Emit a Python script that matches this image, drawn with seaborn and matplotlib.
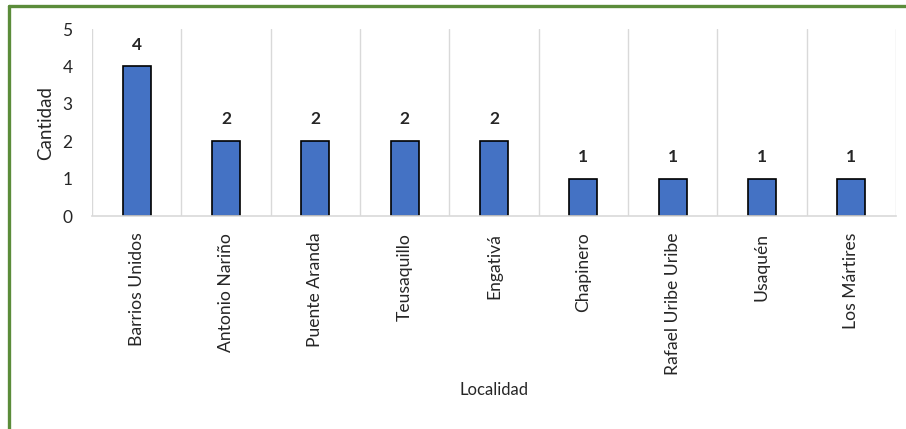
import numpy as np
import pandas as pd
import seaborn as sns
import matplotlib.pyplot as plt
from matplotlib.lines import Line2D

# datos
localidades = ['Barrios Unidos', 'Antonio Nariño', 'Puente Aranda', 'Teusaquillo',
               'Engativá', 'Chapinero', 'Rafael Uribe Uribe', 'Usaquén', 'Los Mártires']
cantidad = [4, 2, 2, 2, 2, 1, 1, 1, 1]

df = pd.DataFrame({'Localidad': localidades, 'Cantidad': cantidad})

sns.set_style('white')
plt.rcParams['font.family'] = ['Lato', 'DejaVu Sans']

fig = plt.figure(figsize=(9.06, 4.29), dpi=100)
ax = fig.add_axes([92 / 906, 1 - 216 / 429, (896 - 92) / 906, (216 - 29) / 429])

sns.barplot(data=df, x='Localidad', y='Cantidad', color='#4472C4',
            edgecolor='black', linewidth=1.2, width=0.31, saturation=1, ax=ax)

for c in ax.containers:
    ax.bar_label(c, fmt='%d', padding=10, fontsize=12.5, fontweight='bold')

ax.set_ylim(0, 5)
ax.set_xlim(-0.5, len(localidades) - 0.5)
ax.set_yticks(range(0, 6))
ax.tick_params(axis='y', labelsize=12.5, length=0, pad=14)
ax.tick_params(axis='x', labelsize=12.6, length=0, pad=12)
plt.setp(ax.get_xticklabels(), rotation=90)

# líneas verticales entre categorías (estilo Excel)
ax.set_xticks(np.arange(-0.5, len(localidades)), minor=True)
ax.grid(which='minor', axis='x', color='#d9d9d9', linewidth=1)
ax.tick_params(which='minor', length=0)

for s in ['top', 'right', 'left']:
    ax.spines[s].set_visible(False)
ax.spines['bottom'].set_color('#d9d9d9')
ax.spines['bottom'].set_linewidth(1.2)

ax.set_ylabel('Cantidad', fontsize=13.5, labelpad=6)
ax.set_xlabel('Localidad', fontsize=12, labelpad=5)

# borde verde
fig.add_artist(Line2D([9 / 906, 1], [1 - 6 / 429, 1 - 6 / 429], color='#5B8C3A', linewidth=2.4))
fig.add_artist(Line2D([9 / 906, 9 / 906], [0, 1 - 6 / 429], color='#5B8C3A', linewidth=2.4))

fig.savefig('out.png', dpi=100)
